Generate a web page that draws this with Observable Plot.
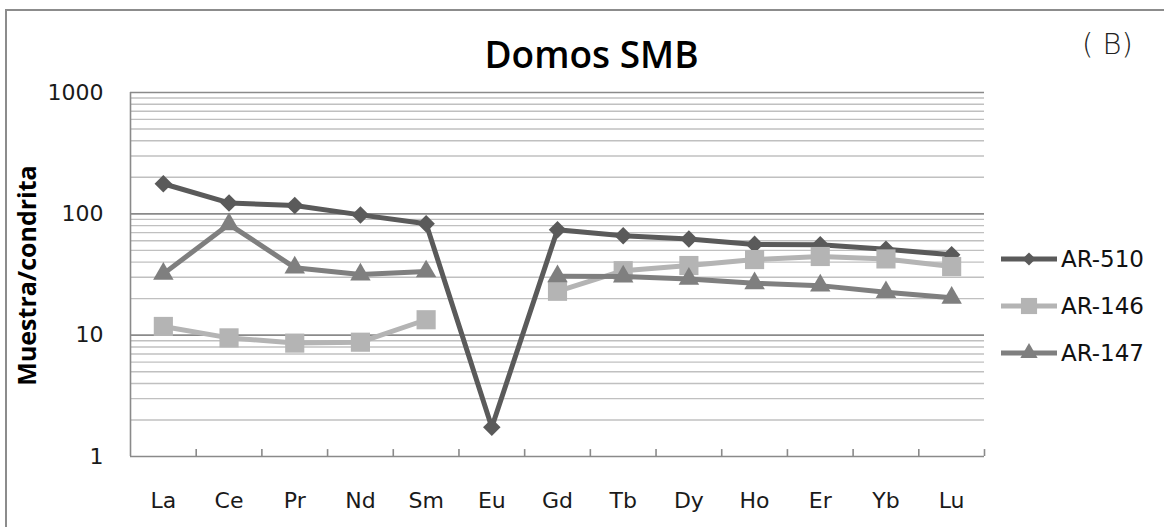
<!DOCTYPE html>
<html><head><meta charset="utf-8">
<script src="https://cdn.jsdelivr.net/npm/d3@7"></script>
<script src="https://cdn.jsdelivr.net/npm/@observablehq/plot@0.6"></script>
<style>
html,body{margin:0;padding:0;background:#fff;overflow:hidden;}
#wrap{position:relative;width:1164px;height:527px;overflow:hidden;}
#frame{position:absolute;left:5px;top:9px;width:1300px;height:700px;border:2px solid #8c8c8c;box-sizing:border-box;}
#chart{position:absolute;left:0;top:0;}
#legend{position:absolute;left:1001px;top:235px;font-family:"DejaVu Sans",sans-serif;font-size:23px;color:#111;}
.item{display:flex;align-items:center;height:47px;}
.item svg{display:block;}
.item span{margin-left:4px;}
</style></head><body><div id="wrap"><div id="frame"></div><div id="chart"></div><div id="legend"></div></div>
<script>
const categories = ["La","Ce","Pr","Nd","Sm","Eu","Gd","Tb","Dy","Ho","Er","Yb","Lu"];
const ar510 = [177,123,117,98,83,1.74,74,66,62,56,55.5,51,46];
const ar146 = [11.8,9.5,8.6,8.75,13.4,null,23,34,37.5,42,44.5,42.5,36.8];
const ar147 = [32,82,36,31.6,33.5,null,30.6,30.4,29.1,26.8,25.6,22.6,20.3];
const seriesNames = ["AR-510","AR-146","AR-147"];
const seriesValues = [ar510, ar146, ar147];
const seriesColors = ["#5a5a5a","#b4b4b4","#7f7f7f"];
const seriesSymbols = ["diamond2","square","triangle"];
const seriesR = [7.9, 10.8, 7.6];
const yTicks = [1,10,100,1000];
const yMinor = [1,10,100].flatMap(d => [2,3,4,5,6,7,8,9].map(k => d*k));

const idx = categories.map((c,i) => i);
const bounds = d3.range(categories.length + 1).map(i => i - 0.5);

const seriesMarks = seriesNames.flatMap((name, s) => {
  const data = idx.map(i => ({i, v: seriesValues[s][i]}));
  return [
    Plot.line(data, {x: "i", y: "v", stroke: seriesColors[s], strokeWidth: 5, strokeLinejoin: "round"}),
    Plot.dot(data.filter(d => d.v != null), {x: "i", y: "v", symbol: () => seriesSymbols[s], r: seriesR[s], fill: seriesColors[s], stroke: "none"})
  ];
});

const chart = Plot.plot({
  width: 1164, height: 527,
  marginLeft: 130, marginRight: 180, marginTop: 92, marginBottom: 71,
  style: {fontFamily: "DejaVu Sans", fontSize: "22px", color: "#1a1a1a", background: "transparent", overflow: "visible"},
  x: {type: "linear", domain: [-0.5, categories.length - 0.5]},
  y: {type: "log", domain: [1, 1000]},
  symbol: {type: "identity"},
  marks: [
    Plot.ruleY(yMinor, {stroke: "#c0c0c0", strokeWidth: 1.4}),
    Plot.ruleY(yTicks, {stroke: "#8a8a8a", strokeWidth: 1.6}),
    Plot.ruleX([bounds[0]], {stroke: "#8a8a8a", strokeWidth: 1.6}),
    Plot.ruleX(bounds.slice(1), {x: d => d, y1: 1, y2: 1.14, stroke: "#8a8a8a", strokeWidth: 1.6}),
    Plot.axisX(idx, {tickFormat: i => categories[i], tickSize: 0, tickPadding: 36, fontSize: 22, label: null}),
    Plot.axisY(yTicks, {tickFormat: d => String(d), tickSize: 0, tickPadding: 27, fontSize: 22, label: null}),
    Plot.text(["Muestra/condrita"], {frameAnchor: "left", textAnchor: "middle", rotate: -90, dx: -103, dy: 1, fontSize: 25, fontWeight: "bold", fontFamily: "Open Sans", fill: "#000"}),
    Plot.text(["Domos SMB"], {frameAnchor: "top", dx: 34, dy: -25, lineAnchor: "bottom", fontSize: 37, fontWeight: 600, fontFamily: "Open Sans", fill: "#000"}),
    Plot.text(["( B)"], {frameAnchor: "top-right", dx: 123, dy: -39, lineAnchor: "bottom", textAnchor: "middle", fontSize: 29, fontWeight: 200, fontFamily: "DejaVu Sans", fill: "#222"}),
    ...seriesMarks
  ]
});
document.getElementById("chart").appendChild(chart);

// legend
const legend = d3.select("#legend");
const legendSize = [110, 260, 130];
const symbolMap = {diamond2: d3.symbolDiamond2, square: d3.symbolSquare, triangle: d3.symbolTriangle};
seriesNames.forEach((name, s) => {
  const item = legend.append("div").attr("class", "item");
  const svg = item.append("svg").attr("width", 56).attr("height", 24);
  svg.append("line").attr("x1", 0).attr("x2", 56).attr("y1", 12).attr("y2", 12)
    .attr("stroke", seriesColors[s]).attr("stroke-width", 5);
  svg.append("path").attr("transform", "translate(28,12)")
    .attr("d", d3.symbol(symbolMap[seriesSymbols[s]], legendSize[s])())
    .attr("fill", seriesColors[s]);
  item.append("span").text(name);
});
</script></body></html>
